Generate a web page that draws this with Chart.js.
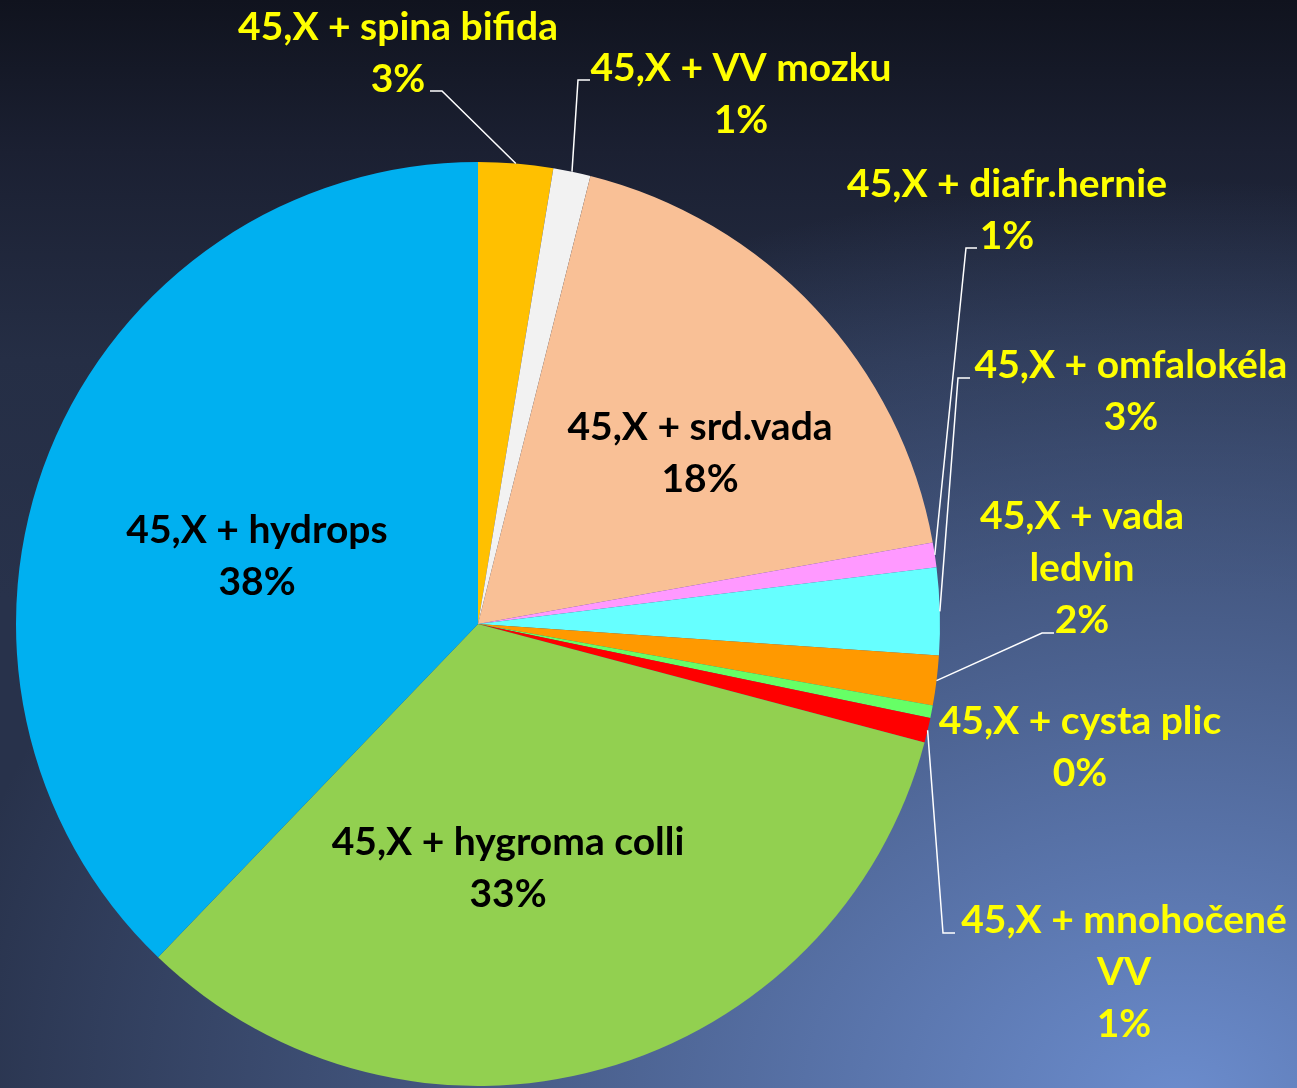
<!DOCTYPE html>
<html>
<head>
<meta charset="utf-8">
<script src="https://cdn.jsdelivr.net/npm/chart.js@4.4.1/dist/chart.umd.min.js"></script>
<style>
  html, body { margin: 0; padding: 0; }
  body {
    width: 1297px;
    height: 1088px;
    overflow: hidden;
    background:
      radial-gradient(1250px 920px at 1180px 1100px, rgba(107,140,205,1) 0%, rgba(107,140,205,0) 100%),
      linear-gradient(to bottom, #10131e 0%, #1b2032 14%, #252e45 33%, #28324b 55%, #28324b 100%);
  }
  #chart { display: block; }
</style>
</head>
<body id="body">
<canvas id="chart" width="1297" height="1088"></canvas>
<script>
// slices clockwise from 12 o'clock
const categories = [
  "45,X + spina bifida",
  "45,X + VV mozku",
  "45,X + srd.vada",
  "45,X + diafr.hernie",
  "45,X + omfalokéla",
  "45,X + vada\nledvin",
  "45,X + cysta plic",
  "45,X + mnohočené\nVV",
  "45,X + hygroma colli",
  "45,X + hydrops"
]
const counts = [6, 3, 42, 2, 7, 4, 1, 2, 76, 87]
const sliceColors = ["#FFC000", "#F2F2F2", "#F9C096", "#FF99FF", "#66FFFF",
                     "#FF9900", "#66FF66", "#FF0000", "#92D050", "#00B0F0"]

// where each label sits, px from the pie centre (for r = 462)
// x = text centre, y = baseline of first line, leader = [elbow, end]
const labelLayout = [
  { x: -80, y: -584, color: "#FFFF00", leader: [[-36, -533], [-48, -533]] },
  { x: 263, y: -543, color: "#FFFF00", leader: [[100, -544], [112, -544]] },
  { x: 222, y: -184, color: "#000000" },
  { x: 529, y: -427, color: "#FFFF00", leader: [[488, -376], [499, -376]] },
  { x: 653, y: -246, color: "#FFFF00", leader: [[480, -246], [492, -246]] },
  { x: 604, y: -95, color: "#FFFF00", leader: [[564, 9], [576, 9]] },
  { x: 602, y: 110, color: "#FFFF00" },
  { x: 646, y: 309, color: "#FFFF00", leader: [[465, 309], [477, 309]] },
  { x: 30, y: 231, color: "#000000" },
  { x: -221, y: -81, color: "#000000" }
]
const lineHeight = 52

const total = counts.reduce((a, b) => a + b, 0)
const pct = (v) => Math.round(v / total * 100) + "%"

const sliceLabels = {
  id: "sliceLabels",
  afterDatasetsDraw (chart) {
    const ctx = chart.ctx
    const arcs = chart.getDatasetMeta(0).data
    const cx = arcs[0].x, cy = arcs[0].y
    const r = arcs[0].outerRadius
    const k = r / 462
    ctx.save()
    ctx.font = "bold 39px Lato"
    ctx.textAlign = "center"
    ctx.textBaseline = "alphabetic"
    labelLayout.forEach((lay, i) => {
      const arc = arcs[i]
      if (lay.leader) {
        const mid = (arc.startAngle + arc.endAngle) / 2
        ctx.beginPath()
        ctx.moveTo(cx + Math.cos(mid) * r, cy + Math.sin(mid) * r)
        lay.leader.forEach(p => ctx.lineTo(cx + p[0] * k, cy + p[1] * k))
        ctx.strokeStyle = "#ffffff"
        ctx.lineWidth = 1.5
        ctx.stroke()
      }
      const lines = categories[i].split("\n").concat([pct(counts[i])])
      ctx.fillStyle = lay.color
      lines.forEach((t, j) => {
        ctx.fillText(t, cx + lay.x * k, cy + lay.y * k + j * lineHeight)
      })
    })
    ctx.restore()
  }
}

let chart = new Chart(document.getElementById("chart"), {
  type: "pie",
  data: {
    labels: categories.map(c => c.replace("\n", " ")),
    datasets: [{
      data: counts,
      backgroundColor: sliceColors,
      borderWidth: 0
    }]
  },
  options: {
    responsive: false,
    animation: false,
    layout: { padding: { left: 16, top: 162, right: 357, bottom: 2 } },
    plugins: {
      legend: { display: false },
      tooltip: { enabled: false }
    }
  },
  plugins: [sliceLabels]
})
</script>
</body>
</html>
